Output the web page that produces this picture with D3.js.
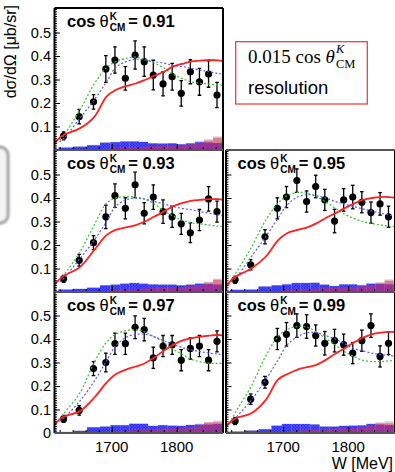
<!DOCTYPE html>
<html>
<head>
<meta charset="utf-8">
<script src="https://cdn.jsdelivr.net/npm/d3@7"></script>
<style>
  body { margin: 0; background: #fff; }
  svg { display: block; }
</style>
</head>
<body>
<svg id="chart" width="395" height="472"></svg>
<script>
// ---- data ----
const cosLabels = ["0.91", "0.93", "0.95", "0.97", "0.99"];
const wPoints = [1626, 1650, 1672, 1691, 1705, 1721, 1736, 1750, 1764, 1779, 1793, 1807, 1821, 1835, 1849, 1862];

const sig091 = [0.060, 0.142, 0.205, 0.345, 0.383, 0.305, 0.404, 0.376, 0.319, 0.281, 0.312, 0.241, 0.333, 0.290, 0.323, 0.234];
const err091 = [0.017, 0.031, 0.031, 0.057, 0.056, 0.050, 0.060, 0.063, 0.063, 0.051, 0.057, 0.054, 0.051, 0.057, 0.056, 0.054];
const sig093 = [0.056, 0.135, 0.210, 0.320, 0.410, 0.356, 0.456, 0.335, 0.404, 0.342, 0.320, 0.290, 0.252, 0.306, 0.396, 0.342];
const err093 = [0.015, 0.025, 0.030, 0.050, 0.050, 0.045, 0.054, 0.045, 0.052, 0.050, 0.045, 0.045, 0.042, 0.045, 0.052, 0.045];
const sig095 = [0.052, 0.116, 0.235, 0.356, 0.404, 0.474, 0.385, 0.449, 0.392, 0.302, 0.392, 0.404, 0.382, 0.338, 0.375, 0.320];
const err095 = [0.015, 0.022, 0.030, 0.045, 0.045, 0.050, 0.045, 0.048, 0.045, 0.050, 0.048, 0.050, 0.045, 0.045, 0.048, 0.045];
const sig097 = [0.060, 0.096, 0.274, 0.300, 0.380, 0.380, 0.450, 0.440, 0.320, 0.370, 0.375, 0.310, 0.360, 0.370, 0.310, 0.390];
const err097 = [0.015, 0.020, 0.030, 0.040, 0.045, 0.045, 0.048, 0.048, 0.045, 0.045, 0.040, 0.045, 0.045, 0.045, 0.045, 0.045];
const sig099 = [0.051, 0.144, 0.216, 0.400, 0.420, 0.457, 0.453, 0.415, 0.382, 0.393, 0.376, 0.340, 0.393, 0.457, 0.326, 0.382];
const err099 = [0.015, 0.022, 0.025, 0.045, 0.050, 0.050, 0.050, 0.045, 0.050, 0.048, 0.045, 0.045, 0.045, 0.050, 0.045, 0.048];

// model curves, sampled on a common W grid
const wCurve = [1612, 1620, 1627, 1651, 1673, 1692, 1706, 1722, 1737, 1751, 1765, 1780, 1794, 1808, 1822, 1836, 1850, 1863, 1872];
const red091   = [0.028, 0.052, 0.066, 0.092, 0.140, 0.227, 0.255, 0.272, 0.283, 0.298, 0.315, 0.333, 0.355, 0.366, 0.376, 0.380, 0.383, 0.381, 0.378];
const green091 = [null, 0.043, 0.065, 0.170, 0.280, 0.350, 0.376, 0.390, 0.395, 0.386, 0.370, 0.350, 0.323, 0.305, 0.290, 0.284, 0.280, 0.277, 0.276];
const blue091  = [null, 0.035, 0.050, 0.135, 0.213, 0.290, 0.350, 0.376, 0.386, 0.383, 0.376, 0.370, 0.360, 0.355, 0.348, 0.340, 0.333, 0.326, 0.322];
const red093   = [0.032, 0.055, 0.070, 0.106, 0.178, 0.242, 0.264, 0.275, 0.285, 0.300, 0.320, 0.342, 0.364, 0.378, 0.388, 0.392, 0.395, 0.395, 0.392];
const green093 = [null, 0.052, 0.075, 0.170, 0.285, 0.378, 0.400, 0.406, 0.404, 0.395, 0.375, 0.346, 0.324, 0.306, 0.295, 0.290, 0.285, 0.280, 0.279];
const blue093  = [null, 0.042, 0.060, 0.142, 0.220, 0.300, 0.364, 0.392, 0.400, 0.395, 0.385, 0.375, 0.364, 0.356, 0.350, 0.342, 0.335, 0.328, 0.325];
const red095   = [0.020, 0.050, 0.066, 0.100, 0.150, 0.220, 0.250, 0.264, 0.275, 0.292, 0.314, 0.335, 0.356, 0.375, 0.392, 0.400, 0.404, 0.404, 0.402];
const green095 = [null, 0.050, 0.080, 0.190, 0.305, 0.378, 0.410, 0.424, 0.420, 0.406, 0.385, 0.356, 0.332, 0.314, 0.300, 0.292, 0.285, 0.280, 0.279];
const blue095  = [null, 0.042, 0.060, 0.150, 0.235, 0.314, 0.370, 0.404, 0.414, 0.410, 0.400, 0.385, 0.375, 0.364, 0.354, 0.345, 0.335, 0.328, 0.325];
const red097   = [0.036, 0.058, 0.070, 0.093, 0.150, 0.214, 0.250, 0.270, 0.283, 0.297, 0.320, 0.350, 0.374, 0.393, 0.403, 0.410, 0.414, 0.417, 0.415];
const green097 = [null, 0.057, 0.085, 0.170, 0.300, 0.386, 0.420, 0.436, 0.440, 0.430, 0.410, 0.386, 0.357, 0.336, 0.314, 0.303, 0.297, 0.296, 0.296];
const blue097  = [null, 0.050, 0.065, 0.136, 0.220, 0.307, 0.370, 0.407, 0.420, 0.420, 0.410, 0.393, 0.378, 0.364, 0.354, 0.346, 0.340, 0.336, 0.334];
const red099   = [0.027, 0.050, 0.063, 0.084, 0.140, 0.227, 0.250, 0.270, 0.280, 0.290, 0.310, 0.337, 0.360, 0.384, 0.405, 0.420, 0.427, 0.430, 0.430];
const green099 = [null, 0.056, 0.090, 0.200, 0.327, 0.410, 0.440, 0.453, 0.450, 0.430, 0.403, 0.375, 0.347, 0.327, 0.310, 0.304, 0.304, 0.307, 0.308];
const blue099  = [null, 0.044, 0.065, 0.140, 0.227, 0.310, 0.375, 0.410, 0.427, 0.427, 0.415, 0.400, 0.380, 0.360, 0.350, 0.340, 0.334, 0.330, 0.328];

// systematic-error histograms (bin edges shared)
const wBins = [1618, 1641, 1662, 1682, 1698, 1713, 1727, 1742, 1756, 1771, 1786, 1800, 1814, 1828, 1842, 1856, 1870];
const hBlue091 = [0.010, 0.014, 0.020, 0.031, 0.033, 0.036, 0.036, 0.034, 0.028, 0.027, 0.028, 0.024, 0.028, 0.033, 0.032, 0.030];
const hRed091  = [0, 0, 0, 0.004, 0.008, 0.010, 0.012, 0.014, 0.016, 0.018, 0.020, 0.020, 0.024, 0.030, 0.040, 0.052];
const hGray091 = [0.012, 0.016, 0.022, 0.033, 0.035, 0.038, 0.038, 0.036, 0.030, 0.029, 0.030, 0.026, 0.030, 0.038, 0.046, 0.058];
const hBlue093 = [0.010, 0.013, 0.018, 0.028, 0.031, 0.035, 0.038, 0.035, 0.032, 0.031, 0.031, 0.028, 0.031, 0.035, 0.034, 0.032];
const hRed093  = [0, 0, 0, 0.004, 0.008, 0.010, 0.012, 0.014, 0.016, 0.018, 0.020, 0.020, 0.024, 0.030, 0.040, 0.052];
const hGray093 = [0.012, 0.015, 0.020, 0.030, 0.033, 0.037, 0.040, 0.037, 0.034, 0.033, 0.033, 0.030, 0.033, 0.039, 0.044, 0.056];
const hBlue095 = [0.009, 0.010, 0.023, 0.028, 0.032, 0.038, 0.038, 0.039, 0.031, 0.025, 0.032, 0.032, 0.028, 0.035, 0.034, 0.033];
const hRed095  = [0, 0, 0, 0.004, 0.008, 0.010, 0.012, 0.014, 0.016, 0.018, 0.020, 0.020, 0.024, 0.030, 0.038, 0.048];
const hGray095 = [0.011, 0.012, 0.025, 0.030, 0.034, 0.040, 0.040, 0.041, 0.033, 0.027, 0.034, 0.034, 0.031, 0.038, 0.042, 0.054];
const hBlue097 = [0.004, 0.009, 0.024, 0.027, 0.033, 0.033, 0.039, 0.039, 0.030, 0.033, 0.031, 0.030, 0.034, 0.036, 0.036, 0.038];
const hRed097  = [0, 0, 0, 0.004, 0.008, 0.010, 0.012, 0.014, 0.016, 0.018, 0.020, 0.020, 0.024, 0.032, 0.044, 0.046];
const hGray097 = [0.006, 0.011, 0.026, 0.029, 0.035, 0.035, 0.041, 0.041, 0.032, 0.035, 0.033, 0.032, 0.036, 0.040, 0.047, 0.053];
const hBlue099 = [0.006, 0.010, 0.016, 0.031, 0.038, 0.038, 0.038, 0.036, 0.027, 0.027, 0.030, 0.031, 0.032, 0.038, 0.036, 0.034];
const hRed099  = [0, 0, 0, 0.004, 0.008, 0.010, 0.012, 0.014, 0.016, 0.018, 0.020, 0.020, 0.024, 0.030, 0.041, 0.041];
const hGray099 = [0.008, 0.012, 0.018, 0.033, 0.040, 0.040, 0.040, 0.038, 0.029, 0.029, 0.032, 0.033, 0.034, 0.041, 0.045, 0.050];

const yMajor = [0.1, 0.2, 0.3, 0.4, 0.5];
const xLabels = [1700, 1800];

// ---- layout ----
const svg = d3.select("#chart");
const sans = "'Liberation Sans', Arial, Helvetica, sans-serif";
const serif = "'Liberation Serif', 'Times New Roman', serif";
const cols = [[54.5, 223], [226, 395]];
const rows = [[8, 150], [150, 292], [292, 433]];
const pxPerUnit = 235;

const panels = [
  { label: cosLabels[0], c: 0, r: 0, sig: sig091, err: err091, red: red091, green: green091, blue: blue091, hb: hBlue091, hr: hRed091, hg: hGray091 },
  { label: cosLabels[1], c: 0, r: 1, sig: sig093, err: err093, red: red093, green: green093, blue: blue093, hb: hBlue093, hr: hRed093, hg: hGray093 },
  { label: cosLabels[2], c: 1, r: 1, sig: sig095, err: err095, red: red095, green: green095, blue: blue095, hb: hBlue095, hr: hRed095, hg: hGray095 },
  { label: cosLabels[3], c: 0, r: 2, sig: sig097, err: err097, red: red097, green: green097, blue: blue097, hb: hBlue097, hr: hRed097, hg: hGray097 },
  { label: cosLabels[4], c: 1, r: 2, sig: sig099, err: err099, red: red099, green: green099, blue: blue099, hb: hBlue099, hr: hRed099, hg: hGray099 }
];

const defs = svg.append("defs");
const pat = defs.append("pattern").attr("id", "hatch")
  .attr("patternUnits", "userSpaceOnUse").attr("width", 3).attr("height", 3);
pat.append("rect").attr("width", 3).attr("height", 3).attr("fill", "#2e2ef4");
pat.append("path").attr("d", "M0,0L3,3M3,0L0,3").attr("stroke", "#5858ff").attr("stroke-width", 0.6);

const blur = defs.append("filter").attr("id", "soft");
blur.append("feGaussianBlur").attr("stdDeviation", 0.9);

// grey widget edge at far left
svg.append("rect").attr("x", -30).attr("y", 147).attr("width", 38).attr("height", 76)
  .attr("rx", 8).attr("fill", "#f4f4f4").attr("stroke", "#999").attr("stroke-width", 2.8)
  .attr("filter", "url(#soft)");

panels.forEach((p, i) => {
  const [x0, x1] = cols[p.c];
  const [y0, y1] = rows[p.r];
  const x = d3.scaleLinear().domain([1612, 1612 + (x1 - x0) / 0.65]).range([x0, x1]);
  const y = d3.scaleLinear().domain([0, (y1 - y0) / pxPerUnit]).range([y1, y0]);

  const clipId = "clip" + i;
  defs.append("clipPath").attr("id", clipId).append("rect")
    .attr("x", x0).attr("y", y0).attr("width", x1 - x0).attr("height", y1 - y0);

  const g = svg.append("g");
  const inner = g.append("g").attr("clip-path", `url(#${clipId})`);

  const bins = p.hb.map((v, k) => ({ a: wBins[k], b: wBins[k + 1], blue: v, red: p.hr[k], gray: p.hg[k] }));
  inner.selectAll(".hg").data(bins).join("rect")
    .attr("x", d => x(d.a)).attr("width", d => x(d.b) - x(d.a))
    .attr("y", d => y(d.gray)).attr("height", d => y(0) - y(d.gray))
    .attr("fill", "rgba(150,150,165,0.45)");
  inner.selectAll(".hb").data(bins).join("rect")
    .attr("x", d => x(d.a)).attr("width", d => x(d.b) - x(d.a))
    .attr("y", d => y(d.blue)).attr("height", d => y(0) - y(d.blue))
    .attr("fill", "url(#hatch)");
  inner.selectAll(".hr").data(bins.filter(d => d.red > 0)).join("rect")
    .attr("x", d => x(d.a)).attr("width", d => x(d.b) - x(d.a))
    .attr("y", d => y(d.red)).attr("height", d => y(0) - y(d.red))
    .attr("fill", "rgba(240,40,60,0.5)");

  // data points with error bars
  const pts = wPoints.map((w, k) => ({ w, v: p.sig[k], e: p.err[k] }));
  const eb = inner.append("g").attr("stroke", "#000").attr("stroke-width", 1.3);
  eb.selectAll("line.v").data(pts).join("line")
    .attr("x1", d => x(d.w)).attr("x2", d => x(d.w))
    .attr("y1", d => y(d.v - d.e)).attr("y2", d => y(d.v + d.e));
  eb.selectAll("line.t").data(pts.flatMap(d => [d.v - d.e, d.v + d.e].map(v => ({ w: d.w, v })))).join("line")
    .attr("x1", d => x(d.w) - 1.8).attr("x2", d => x(d.w) + 1.8)
    .attr("y1", d => y(d.v)).attr("y2", d => y(d.v));
  inner.selectAll("circle").data(pts).join("circle")
    .attr("cx", d => x(d.w)).attr("cy", d => y(d.v)).attr("r", 3.6).attr("fill", "#000");

  // model curves
  const line = d3.line().defined(d => d[1] != null)
    .x(d => x(d[0])).y(d => y(d[1])).curve(d3.curveCatmullRom.alpha(0.5));
  inner.append("path").attr("d", line(wCurve.map((w, k) => [w, p.green[k]])))
    .attr("fill", "none").attr("stroke", "#33c433").attr("stroke-width", 1.2).attr("stroke-dasharray", "2,2");
  inner.append("path").attr("d", line(wCurve.map((w, k) => [w, p.blue[k]])))
    .attr("fill", "none").attr("stroke", "#5a5af5").attr("stroke-width", 1.2).attr("stroke-dasharray", "2,2");
  inner.append("path").attr("d", line(wCurve.map((w, k) => [w, p.red[k]])))
    .attr("fill", "none").attr("stroke", "#ff2020").attr("stroke-width", 1.8);

  // axes: ticks inside
  const yMinor = d3.range(1, Math.floor(y.domain()[1] * 100) + 1).map(v => v / 100);
  g.append("g").attr("transform", `translate(${x0},0)`)
    .call(d3.axisRight(y).tickValues(yMinor).tickSize(2.5).tickFormat(""))
    .call(a => a.select(".domain").remove());
  g.append("g").attr("transform", `translate(${x0},0)`)
    .call(d3.axisRight(y).tickValues(yMajor).tickSize(5.5).tickFormat(""))
    .call(a => a.select(".domain").remove());
  const xMinor = d3.range(1620, x.domain()[1], 20);
  g.append("g").attr("transform", `translate(0,${y1})`)
    .call(d3.axisTop(x).tickValues(xMinor).tickSize(3).tickFormat(""))
    .call(a => a.select(".domain").remove());
  g.append("g").attr("transform", `translate(0,${y1})`)
    .call(d3.axisTop(x).tickValues(xLabels).tickSize(6).tickFormat(""))
    .call(a => a.select(".domain").remove());
  g.selectAll(".tick line").attr("stroke", "#000").attr("stroke-width", 1);

  // frame
  g.append("line").attr("x1", x0).attr("x2", x0).attr("y1", y0).attr("y2", y1)
    .attr("stroke", "#000").attr("stroke-width", 2);
  g.append("line").attr("x1", x1).attr("x2", x1).attr("y1", y0).attr("y2", y1)
    .attr("stroke", "#000").attr("stroke-width", 2);
  g.append("line").attr("x1", x0).attr("x2", x1).attr("y1", y0).attr("y2", y0)
    .attr("stroke", p.r === 0 ? "#000" : "#555").attr("stroke-width", 1.8);
  g.append("line").attr("x1", x0).attr("x2", x1).attr("y1", y1).attr("y2", y1)
    .attr("stroke", "#555").attr("stroke-width", 1.8);

  // y labels on left column
  if (p.c === 0) {
    const vals = p.r === 2 ? [0].concat(yMajor) : yMajor;
    g.selectAll(".yl").data(vals).join("text")
      .attr("x", x0 - 3.5).attr("y", d => y(d)).attr("dy", "0.36em")
      .attr("text-anchor", "end").attr("font-family", sans).attr("font-size", 14.5)
      .text(d => d === 0 ? "0" : d3.format(".1f")(d));
  }
  // x labels on bottom row
  if (p.r === 2) {
    g.selectAll(".xl").data(xLabels).join("text")
      .attr("x", d => x(d)).attr("y", y1 + 19)
      .attr("text-anchor", "middle").attr("font-family", sans).attr("font-size", 15)
      .text(d => d);
  }

  // panel label: cos θ^K_CM = value
  const t = g.append("text").attr("x", x0 + (p.c === 0 ? 12.5 : 11.5)).attr("y", y0 + 18.5)
    .attr("font-family", sans).attr("font-size", 16.5).attr("font-weight", "bold");
  t.append("tspan").text("cos");
  t.append("tspan").attr("dx", 4).attr("font-weight", "normal").text("θ");
  t.append("tspan").attr("dx", 1).attr("dy", -7).attr("font-size", 10).text("K");
  t.append("tspan").attr("dx", -7.2).attr("dy", 11).attr("font-size", 10).text("CM");
  t.append("tspan").attr("dx", 3).attr("dy", -4).text("= " + p.label);
});

// axis titles
svg.append("text").attr("transform", "translate(15.5,5) rotate(-90)")
  .attr("text-anchor", "end").attr("font-family", sans).attr("font-size", 16)
  .text("dσ/dΩ [μb/sr]");
svg.append("text").attr("x", 393).attr("y", 469).attr("text-anchor", "end")
  .attr("font-family", sans).attr("font-size", 16).text("W [MeV]");

// resolution note
svg.append("rect").attr("x", 235.7).attr("y", 41.7).attr("width", 131.6).attr("height", 62.3)
  .attr("fill", "none").attr("stroke", "#f03030").attr("stroke-width", 1.2);
const n1 = svg.append("text").attr("x", 248).attr("y", 62.5)
  .attr("font-family", serif).attr("font-size", 19);
n1.append("tspan").text("0.015 cos ");
n1.append("tspan").attr("font-style", "italic").text("θ");
n1.append("tspan").attr("font-style", "italic").attr("font-size", 12.5).attr("dx", 1).attr("dy", -9.5).text("K");
n1.append("tspan").attr("font-size", 12.5).attr("dx", -8.3).attr("dy", 15).text("CM");
svg.append("text").attr("x", 248).attr("y", 94).attr("font-family", sans)
  .attr("font-size", 18.5).text("resolution");
</script>
</body>
</html>
